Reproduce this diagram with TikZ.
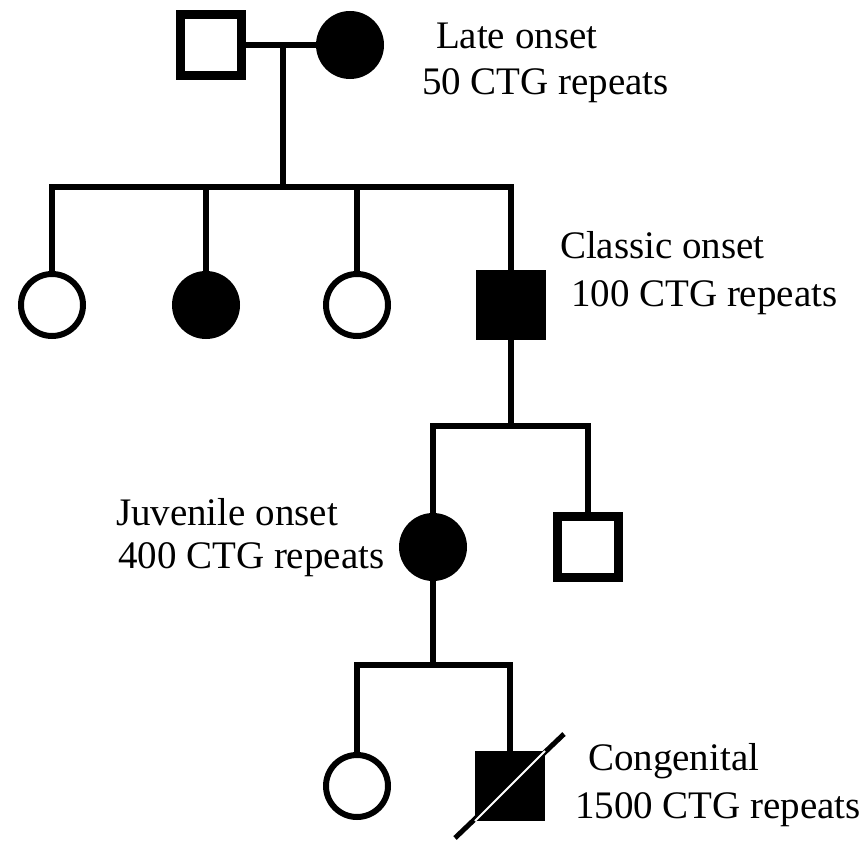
\documentclass[tikz,border=0pt]{standalone}
\usepackage{fontspec}
\setmainfont{Liberation Serif}
\usepackage{tikz}

\begin{document}
\begin{tikzpicture}[x=1pt,y=-1pt,
    line width=6pt,
    male/.style={draw, rectangle, line width=9pt, minimum size=61pt, inner sep=0pt},
    female/.style={draw, circle, line width=6pt, minimum size=62pt, inner sep=0pt},
    affected/.style={fill=black},
    lbl/.style={anchor=base west, inner sep=0pt, font=\fontsize{39}{47}\selectfont}]
  \useasboundingbox (0,0) rectangle (862,842);
  % generation I
  \node[male] (I1) at (211,45) {};
  \node[female, affected] (I2) at (350,45) {};
  \coordinate (m1) at (283,45);
  \coordinate (s1) at (283,187);
  \draw (I1) -- (I2);
  \draw (m1) -- (s1);
  \node[lbl] (t1a) at (433,49) {Late onset};
  \node[lbl] (t1b) at (419,95) {50 CTG repeats};
  % generation II
  \node[female] (II1) at (52,305) {};
  \node[female, affected] (II2) at (206,305) {};
  \node[female] (II3) at (357,305) {};
  \node[male, affected] (II4) at (511,305) {};
  \draw (II1.north) |- (s1) -| (II4.north);
  \draw (II2.north) -- (II2.north |- s1);
  \draw (II3.north) -- (II3.north |- s1);
  \node[lbl] (t2a) at (557,259) {Classic onset};
  \node[lbl] (t2b) at (568,307) {100 CTG repeats};
  % generation III
  \coordinate (s2) at (511,426);
  \node[female, affected] (III1) at (433,547) {};
  \node[male] (III2) at (588,547) {};
  \draw (II4.south) -- (s2);
  \draw (III1.north) |- (s2) -| (III2.north);
  \node[lbl] (t3a) at (113,525) {Juvenile onset};
  \node[lbl] (t3b) at (115,568) {400 CTG repeats};
  % generation IV
  \coordinate (s3) at (433,665);
  \node[female] (IV1) at (357,786) {};
  \node[male, affected] (IV2) at (510,786) {};
  \draw (III1.south) -- (s3);
  \draw (IV1.north) |- (s3) -| (IV2.north);
  \coordinate (d1) at (455,838);
  \coordinate (d2) at (564,734);
  \draw[line width=5pt] (d1) -- (d2);
  \draw[white, line width=2pt] (IV2.south west) -- (IV2.north east);
  \node[lbl] (t4a) at (585,770) {Congenital};
  \node[lbl] (t4b) at (572,818) {1500 CTG repeats};
\end{tikzpicture}
\end{document}
